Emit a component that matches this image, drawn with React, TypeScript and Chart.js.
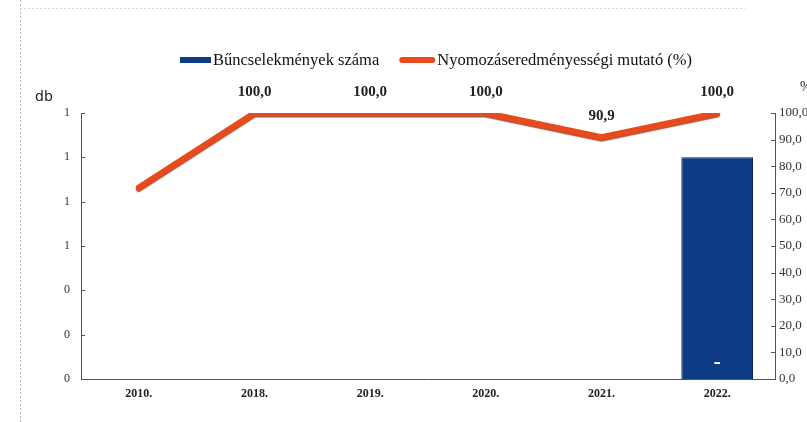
import React, { useEffect, useRef } from "react";
import { Chart, registerables } from "chart.js";

Chart.register(...registerables);

const categories = ["2010.", "2018.", "2019.", "2020.", "2021.", "2022."];
const crimeCounts = [0, 0, 0, 0, 0, 1];
const clearanceRates = [72.0, 100, 100, 100, 90.9, 100];
const rateLabelVisible = [false, true, true, true, true, true];
const barLabels = ["", "", "", "", "", "-"];
const leftTickLabels = ["0", "0", "0", "1", "1", "1", "1"];
const rightTickLabels = ["0,0", "10,0", "20,0", "30,0", "40,0", "50,0", "60,0", "70,0", "80,0", "90,0", "100,0"];
const seriesNames = ["Bűncselekmények száma", "Nyomozáseredményességi mutató (%)"];
const axisTitles = ["db", "%"];

const W = 807;
const H = 422;
const PLOT = { left: 81, right: 775, top: 113, bottom: 379 };
const SERIF = "'Liberation Serif', 'Times New Roman', serif";
const NAVY = "#0d3c84";
const RED = "#e84a1c";

const fmt = (v: number) => v.toFixed(1).replace(".", ",");

const decorPlugin = {
  id: "decor",
  beforeDraw(chart: any) {
    const ctx = chart.ctx;
    ctx.save();
    ctx.strokeStyle = "#b5b5b5";
    ctx.lineWidth = 1;
    ctx.setLineDash([2, 2]);
    ctx.beginPath();
    ctx.moveTo(20.5, 0);
    ctx.lineTo(20.5, H);
    ctx.stroke();
    ctx.strokeStyle = "#dcdcdc";
    ctx.beginPath();
    ctx.moveTo(20, 8.5);
    ctx.lineTo(745, 8.5);
    ctx.stroke();
    ctx.restore();
  },
};

const legendPlugin = {
  id: "customLegend",
  afterDraw(chart: any) {
    const ctx = chart.ctx;
    ctx.save();
    ctx.font = `16.5px ${SERIF}`;
    ctx.textBaseline = "middle";
    ctx.textAlign = "left";
    const boxW = [31, 36];
    const gapBox = 2;
    const gapItem = 20;
    const tw = seriesNames.map((s) => ctx.measureText(s).width);
    const total = boxW[0] + gapBox + tw[0] + gapItem + boxW[1] + gapBox + tw[1];
    let x = 436 - total / 2;
    const y = 60;
    // bar item
    ctx.fillStyle = NAVY;
    ctx.fillRect(x, y - 3, boxW[0], 6);
    x += boxW[0] + gapBox;
    ctx.fillStyle = "#111";
    ctx.fillText(seriesNames[0], x, y + 1);
    x += tw[0] + gapItem;
    // line item
    ctx.strokeStyle = RED;
    ctx.lineWidth = 6;
    ctx.lineCap = "round";
    ctx.beginPath();
    ctx.moveTo(x + 3, y);
    ctx.lineTo(x + boxW[1] - 3, y);
    ctx.stroke();
    x += boxW[1] + gapBox;
    ctx.fillStyle = "#111";
    ctx.fillText(seriesNames[1], x, y + 1);
    ctx.restore();
  },
};

const axisDecorPlugin = {
  id: "axisDecor",
  afterDraw(chart: any) {
    const ctx = chart.ctx;
    const area = chart.chartArea;
    ctx.save();
    ctx.fillStyle = "#222";
    ctx.textBaseline = "middle";
    ctx.textAlign = "left";
    ctx.font = "14px 'DejaVu Sans', Arial, sans-serif";
    ctx.fillText(axisTitles[0], 35, area.top - 16);
    ctx.font = `14px ${SERIF}`;
    ctx.fillText(axisTitles[1], 800, area.top - 26);
    // inward tick marks
    ctx.strokeStyle = "#555";
    ctx.lineWidth = 1;
    const yl = chart.scales.y;
    yl.ticks.forEach((_t: any, i: number) => {
      const py = Math.round(yl.getPixelForTick(i)) + 0.5;
      ctx.beginPath();
      ctx.moveTo(area.left, py);
      ctx.lineTo(area.left + 4, py);
      ctx.stroke();
    });
    const yr = chart.scales.y1;
    yr.ticks.forEach((_t: any, i: number) => {
      const py = Math.round(yr.getPixelForTick(i)) + 0.5;
      ctx.beginPath();
      ctx.moveTo(area.right, py);
      ctx.lineTo(area.right - 4, py);
      ctx.stroke();
    });
    ctx.restore();
  },
};

const dataLabelPlugin = {
  id: "dataLabels",
  afterDatasetsDraw(chart: any) {
    const ctx = chart.ctx;
    ctx.save();
    ctx.textAlign = "center";
    ctx.textBaseline = "middle";
    const lineMeta = chart.getDatasetMeta(1);
    ctx.font = `bold 15px ${SERIF}`;
    ctx.fillStyle = "#222";
    lineMeta.data.forEach((pt: any, i: number) => {
      if (!rateLabelVisible[i]) return;
      ctx.fillText(fmt(clearanceRates[i]), pt.x, pt.y - 21);
    });
    const barMeta = chart.getDatasetMeta(0);
    ctx.font = `bold 22px ${SERIF}`;
    ctx.fillStyle = "#ffffff";
    barMeta.data.forEach((bar: any, i: number) => {
      if (!barLabels[i]) return;
      ctx.fillText(barLabels[i], bar.x, bar.base - 17);
    });
    ctx.restore();
  },
};

const lineShadowPlugin = {
  id: "lineShadow",
  beforeDatasetDraw(chart: any, args: any) {
    if (args.index !== 1) return;
    const ctx = chart.ctx;
    ctx.save();
    ctx.shadowColor = "rgba(150,40,10,0.8)";
    ctx.shadowBlur = 1;
    ctx.shadowOffsetY = 1.5;
  },
  afterDatasetDraw(chart: any, args: any) {
    if (args.index !== 1) return;
    chart.ctx.restore();
  },
};

export default function App() {
  const canvasRef = useRef<HTMLCanvasElement | null>(null);

  useEffect(() => {
    const canvas = canvasRef.current;
    if (!canvas) return;
    const chart = new Chart(canvas, {
      type: "bar",
      data: {
        labels: categories,
        datasets: [
          {
            type: "bar",
            label: seriesNames[0],
            data: crimeCounts,
            yAxisID: "y",
            order: 1,
            barPercentage: 0.62,
            categoryPercentage: 1,
            backgroundColor: (c: any) => {
              const area = c.chart.chartArea;
              const el = c.element;
              if (!area || !el || el.width === undefined) return NAVY;
              const half = el.width / 2;
              const g = c.chart.ctx.createLinearGradient(el.x - half, 0, el.x + half, 0);
              g.addColorStop(0, "#0a2759");
              g.addColorStop(0.07, "#0e3f88");
              g.addColorStop(0.93, "#0e3f88");
              g.addColorStop(1, "#0a2759");
              return g;
            },
            borderColor: "#0a2554",
            borderWidth: (c: any) => (c.raw ? 1 : 0),
          } as any,
          {
            type: "line",
            label: seriesNames[1],
            data: clearanceRates,
            yAxisID: "y1",
            order: 0,
            borderColor: RED,
            backgroundColor: RED,
            borderWidth: 6,
            pointRadius: 0,
            tension: 0,
            borderCapStyle: "round",
            borderJoinStyle: "miter",
          } as any,
        ],
      },
      options: {
        responsive: false,
        animation: false,
        layout: { padding: { top: PLOT.top, left: 0, right: 0, bottom: 0 } },
        plugins: {
          legend: { display: false },
          tooltip: { enabled: false },
        },
        scales: {
          x: {
            grid: { display: false, drawTicks: false },
            border: { color: "#555", width: 1 },
            ticks: {
              font: { family: SERIF, size: 12, weight: "bold" },
              color: "#222",
              padding: 8,
              maxRotation: 0,
            },
            afterFit: (s: any) => {
              s.height = H - PLOT.bottom;
            },
          },
          y: {
            position: "left",
            min: 0,
            max: 1.2,
            grid: { display: false, drawTicks: false },
            border: { color: "#555", width: 1 },
            ticks: {
              stepSize: 0.2,
              autoSkip: false,
              padding: 11,
              color: "#333",
              font: { family: SERIF, size: 12 },
              callback: (_v: any, i: number) => leftTickLabels[i],
            },
            afterFit: (s: any) => {
              s.width = PLOT.left;
            },
          },
          y1: {
            position: "right",
            min: 0,
            max: 100,
            grid: { display: false, drawTicks: false },
            border: { color: "#555", width: 1 },
            ticks: {
              stepSize: 10,
              autoSkip: false,
              padding: 4,
              color: "#333",
              font: { family: SERIF, size: 13 },
              callback: (_v: any, i: number) => rightTickLabels[i],
            },
            afterFit: (s: any) => {
              s.width = W - PLOT.right;
            },
          },
        },
      } as any,
      plugins: [decorPlugin, lineShadowPlugin, dataLabelPlugin, axisDecorPlugin, legendPlugin],
    });
    return () => chart.destroy();
  }, []);

  return (
    <div style={{ position: "absolute", left: 0, top: 0, width: W, height: H, background: "#fff" }}>
      <canvas ref={canvasRef} width={W} height={H} style={{ display: "block", width: W, height: H }} />
    </div>
  );
}
